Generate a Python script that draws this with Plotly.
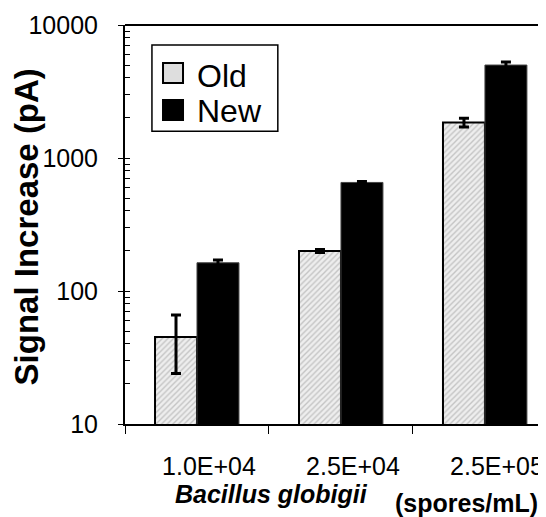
import plotly.graph_objects as go

categories = ["1.0E+04", "2.5E+04", "2.5E+05"]
old_values = [45, 200, 1850]
old_errors = [21, 5, 140]
new_values = [163, 655, 5000]
new_errors = [8, 10, 280]
y_tickvals = [10, 100, 1000, 10000]
y_ticktext = ["10", "100", "1000", "10000"]
legend_names = ["Old", "New"]

FONT = "Arial, Liberation Sans, sans-serif"
OLD_FILL = "#e6e6e6"

fig = go.Figure()
fig.add_trace(go.Bar(
    name=legend_names[0], x=categories, y=old_values, showlegend=False,
    error_y=dict(type="data", array=old_errors, color="black", thickness=3, width=5),
    marker=dict(color=OLD_FILL, line=dict(color="black", width=2),
                pattern=dict(shape="/", fgcolor="#9a9a9a", bgcolor="#eeeeee", size=4, solidity=0.35)),
))
fig.add_trace(go.Bar(
    name=legend_names[1], x=categories, y=new_values, showlegend=False,
    error_y=dict(type="data", array=new_errors, color="black", thickness=3, width=5),
    marker=dict(color="black", line=dict(color="#444444", width=1)),
))

annotations = [
    dict(text="<b>Signal Increase (pA)</b>", textangle=-90, xref="paper", yref="paper",
         x=-0.233, y=0.495, xanchor="center", yanchor="middle", showarrow=False,
         font=dict(size=33, family=FONT)),
    dict(text="<b><i>Bacillus globigii</i></b>", xref="paper", yref="paper",
         x=0.347, y=-0.175, xanchor="center", yanchor="middle", showarrow=False,
         font=dict(size=25, family=FONT)),
    dict(text="<b>(spores/mL)</b>", xref="paper", yref="paper",
         x=0.81, y=-0.197, xanchor="center", yanchor="middle", showarrow=False,
         font=dict(size=25, family=FONT)),
]

# legend box drawn in paper coordinates
shapes = [
    dict(type="rect", xref="paper", yref="paper", x0=0.064, x1=0.363, y0=0.734, y1=0.950,
         line=dict(color="black", width=1.5), fillcolor="white", layer="above"),
    dict(type="rect", xref="paper", yref="paper", x0=0.0903, x1=0.1378, y0=0.8546, y1=0.9048,
         line=dict(color="black", width=2), fillcolor="#dedede", layer="above"),
    dict(type="rect", xref="paper", yref="paper", x0=0.0903, x1=0.1378, y0=0.7619, y1=0.812,
         line=dict(color="black", width=2), fillcolor="black", layer="above"),
    dict(type="line", xref="paper", yref="paper", x0=0, x1=1, y0=1, y1=1,
         line=dict(color="black", width=2)),
]
for name, ypos in zip(legend_names, [0.8734, 0.7845]):
    annotations.append(dict(text=name, xref="paper", yref="paper", x=0.1663, y=ypos,
                            xanchor="left", yanchor="middle", showarrow=False,
                            font=dict(size=32, family=FONT)))

fig.update_layout(
    width=538, height=509,
    margin=dict(l=117, r=0, t=17, b=93),
    paper_bgcolor="white", plot_bgcolor="white",
    barmode="group", bargap=0.417, bargroupgap=0,
    font=dict(family=FONT, color="black", size=25),
    showlegend=False,
    xaxis=dict(type="category", range=[-0.5, 2.424], showline=True, linecolor="black",
               linewidth=2, ticks="outside", ticklen=8, tickwidth=1,
               tickcolor="black", tickson="boundaries", showgrid=False,
               tickfont=dict(size=25), ticklabelstandoff=19, ticklabelshift=12),
    yaxis=dict(type="log", range=[1, 4], showline=True, linecolor="black", linewidth=2,
               ticks="outside", ticklen=5, tickwidth=1, tickcolor="black",
               tickvals=y_tickvals, ticktext=y_ticktext, showgrid=False,
               tickfont=dict(size=25), ticklabelstandoff=15,
               minor=dict(ticks="inside", ticklen=5, tickcolor="black", tickwidth=1,
                          dtick="D1", showgrid=False)),
    annotations=annotations,
    shapes=shapes,
)

fig.write_html("out.html")
